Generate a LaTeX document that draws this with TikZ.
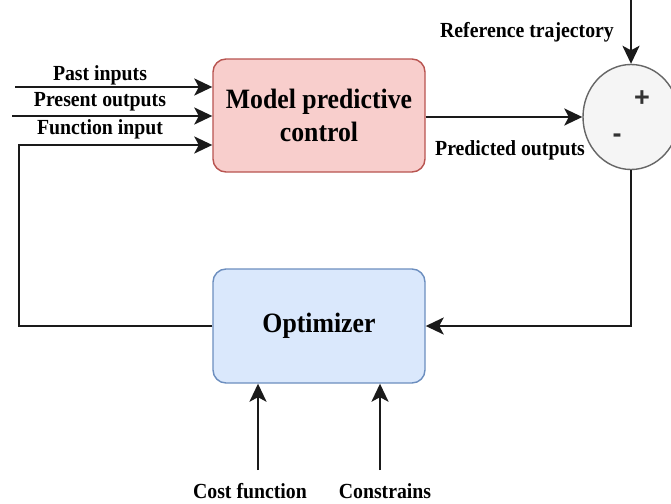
\documentclass[tikz,border=0pt]{standalone}
\usepackage{fontspec}
\setmainfont{Liberation Serif}[FakeStretch=0.92]
\newfontfamily\signfont{Liberation Sans}
\usetikzlibrary{arrows.meta,shapes.geometric}
\definecolor{mpcfill}{HTML}{F8CECC}
\definecolor{mpcline}{HTML}{B85450}
\definecolor{optfill}{HTML}{DAE8FC}
\definecolor{optline}{HTML}{6C8EBF}
\definecolor{sumfill}{HTML}{F5F5F5}
\definecolor{sumline}{HTML}{666666}
\definecolor{wire}{HTML}{1A1A1A}
\definecolor{signcol}{HTML}{333333}
\tikzset{
  block/.style={rectangle, rounded corners=13pt, line width=1.4pt,
    minimum width=212pt, minimum height=113pt, align=center,
    font=\fontsize{28}{33}\selectfont\bfseries},
  lbl/.style={font=\fontsize{21.5}{24}\selectfont\bfseries, inner sep=0pt},
  sig/.style={draw=wire, line width=2.3pt,
    -{Stealth[length=18pt,width=17pt,inset=4.5pt]}},
  signlbl/.style={font=\signfont\bfseries\fontsize{27}{29}\selectfont,
    text=signcol, inner sep=0pt}
}
\begin{document}
\begin{tikzpicture}[x=1pt,y=-1pt]
\useasboundingbox (0,0) rectangle (671,503);
\clip (0,0) rectangle (671,503);
\fill[white] (0,0) rectangle (671,503);

% blocks
\node[block, draw=mpcline, fill=mpcfill] (mpc) at (319,115.5) {Model predictive\\control};
\node[block, draw=optline, fill=optfill, minimum height=114pt] (opt) at (319,326) {Optimizer};
\node[ellipse, draw=sumline, fill=sumfill, line width=1.4pt,
      minimum width=96pt, minimum height=105pt, inner sep=0pt] (sum) at (631,117) {};
\node[signlbl] (plus) at (642,99) {+};
\node[signlbl] (minus) at (617,138) {-};

% input signals
\coordinate (pi) at (15,87);
\coordinate (po) at (12,116);
\draw[sig] (pi) -- (pi -| mpc.west);
\draw[sig] (po) -- (po -| mpc.west);
\node[lbl] (lpi) at (100,75) {Past inputs};
\node[lbl] (lpo) at (100,102) {Present outputs};
\node[lbl] (lfi) at (100,129) {Function input};

% reference trajectory
\coordinate (rt) at (631,0);
\draw[sig] (rt) -- (sum.north);
\node[lbl] (lrt) at (527,32) {Reference trajectory};

% predicted outputs
\draw[sig] (mpc.east |- sum.west) -- (sum.west);
\node[lbl] (lpr) at (510,150) {Predicted outputs};

% error feedback to optimizer
\coordinate (cr) at (631,326);
\draw[sig] (sum.south) -- (cr) -- (opt.east);

% optimizer output back to controller
\coordinate (fl) at (19,326);
\coordinate (fu) at (19,145);
\draw[sig] (opt.west) -- (fl) -- (fu) -- (fu -| mpc.west);

% optimizer inputs
\coordinate (cf) at (258,470);
\coordinate (cs) at (380,470);
\draw[sig] (cf) -- (cf |- opt.south);
\draw[sig] (cs) -- (cs |- opt.south);
\node[lbl] (lcf) at (250,491) {Cost function};
\node[lbl] (lcs) at (385,491) {Constrains};
\end{tikzpicture}
\end{document}
